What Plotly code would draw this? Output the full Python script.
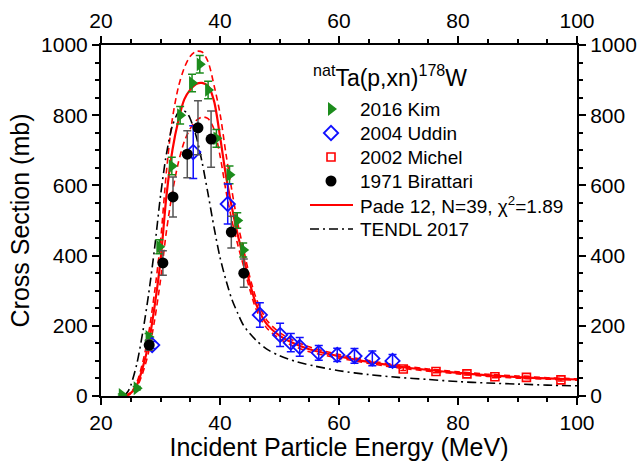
import plotly.graph_objects as go

# ---- measured cross sections (MeV, mb) ----
kim_e = [23.5, 26.0, 28.0, 29.8, 31.9, 33.3, 35.3, 36.6, 38.0, 39.4, 41.6, 42.9, 43.9]
kim_xs = [3, 22, 168, 425, 655, 800, 892, 945, 872, 734, 630, 500, 416]
kim_err = [3, 5, 10, 20, 25, 25, 25, 25, 25, 25, 25, 22, 20]

uddin_e = [28.6, 35.5, 41.3, 46.7, 50.1, 51.9, 53.4, 56.6, 59.7, 62.6, 65.6, 69.0]
uddin_xs = [145, 695, 547, 231, 174, 152, 140, 123, 117, 114, 107, 100]
uddin_err = [10, 75, 57, 35, 33, 26, 27, 21, 19, 21, 21, 18]

michel_e = [70.8, 76.3, 81.5, 86.2, 91.5, 97.3]
michel_xs = [77, 70, 63, 55, 53, 46]
michel_err = [4, 4, 3, 3, 3, 3]

birattari_e = [28.1, 30.4, 32.1, 34.5, 36.3, 38.5, 41.9, 44.0]
birattari_xs = [145, 379, 567, 689, 764, 732, 467, 350]
birattari_err = [15, 35, 57, 67, 77, 80, 45, 40]

# ---- Pade fit with its uncertainty band ----
fit_e = [24, 25, 26, 27, 28, 29, 30, 31, 32, 33, 34, 35, 36, 37, 38, 39, 40,
         41, 42, 43, 44, 45, 46, 47, 48, 50, 52, 55, 60, 65, 70, 75, 80, 85,
         90, 95, 100]
fit_xs = [0, 8, 30, 80, 150, 255, 385, 570, 700, 785, 845, 873, 889, 892, 883,
          840, 740, 628, 537, 458, 390, 322, 265, 228, 202, 172, 153, 133, 113,
          97, 84, 74, 66, 59, 54, 50, 47]
fit_hi = [0, 10, 38, 95, 178, 295, 440, 640, 790, 880, 935, 968, 982, 980, 952,
          885, 805, 690, 585, 490, 415, 340, 282, 242, 213, 181, 161, 140, 118,
          101, 88, 77, 69, 62, 57, 52, 49]
fit_lo = [0, 6, 24, 65, 125, 215, 330, 470, 580, 665, 725, 762, 785, 795, 790,
          760, 685, 585, 500, 430, 368, 304, 250, 215, 191, 163, 145, 126, 108,
          93, 80, 71, 63, 56, 51, 48, 45]

# ---- TENDL-2017 evaluation ----
tendl_e = [23.8, 24.5, 25, 26, 27, 28, 29, 30, 31, 32, 33, 33.7, 34.5, 35, 36,
           37, 38, 39, 40, 41, 42, 43, 44, 46, 48, 50, 53, 56, 60, 65, 70, 75,
           80, 85, 90, 95, 100]
tendl_xs = [0, 12, 30, 90, 180, 290, 420, 570, 690, 770, 808, 815, 805, 790,
            740, 665, 575, 480, 395, 330, 275, 235, 200, 160, 132, 115, 97, 85,
            72, 61, 53, 47, 41, 37, 34, 31, 29]

# legend text
reaction_label = "<sup>nat</sup>Ta(p,xn)<sup>178</sup>W"
series_labels = ["2016 Kim", "2004 Uddin", "2002 Michel", "1971 Birattari",
                 "Pade 12, N=39, \u03c7<sup>2</sup>=1.89", "TENDL 2017"]

GREEN = "#1c8c1c"
BLUE = "#1010ff"
RED = "#ff0000"
GRAY = "#555555"
FONT = "Arial, Liberation Sans, sans-serif"
TENDL_DASH = "9px,4px,2px,4px"

MARKERS = [
    dict(symbol="triangle-right", size=12, color=GREEN),
    dict(symbol="diamond-open", size=11, color=BLUE, line=dict(width=1.8)),
    dict(symbol="square-open", size=8, color=RED, line=dict(width=1.6)),
    dict(symbol="circle", size=11, color="black"),
]
ERR_COLORS = [GREEN, BLUE, RED, GRAY]

fig = go.Figure()

# fit band
for band in (fit_hi, fit_lo):
    fig.add_trace(go.Scatter(
        x=fit_e, y=band, mode="lines", showlegend=False, hoverinfo="skip",
        line=dict(color=RED, width=1.6, dash="6px,4px", shape="spline", smoothing=0.8)))

fig.add_trace(go.Scatter(
    x=tendl_e, y=tendl_xs, mode="lines", showlegend=False, hoverinfo="skip",
    line=dict(color="black", width=1.6, dash=TENDL_DASH, shape="spline", smoothing=0.8)))

fig.add_trace(go.Scatter(
    x=fit_e, y=fit_xs, mode="lines", showlegend=False, hoverinfo="skip",
    line=dict(color=RED, width=2.2, shape="spline", smoothing=0.8)))

# data sets
datasets = [(kim_e, kim_xs, kim_err), (uddin_e, uddin_xs, uddin_err),
            (michel_e, michel_xs, michel_err), (birattari_e, birattari_xs, birattari_err)]
for i, (e, xs, err) in enumerate(datasets):
    fig.add_trace(go.Scatter(
        x=e, y=xs, mode="markers", name=series_labels[i], showlegend=False,
        error_y=dict(type="data", array=err, color=ERR_COLORS[i], thickness=1.5,
                     width=3 if i == 2 else 4),
        marker=MARKERS[i]))

# mirror axes on top / right
fig.add_trace(go.Scatter(x=[None], y=[None], xaxis="x2", yaxis="y2",
                         showlegend=False, hoverinfo="skip"))

# ---- key box, laid out in pixel units on a hidden overlay axis ----
KEY_X = 331          # symbol centre
KEY_TEXT_X = 358     # label left edge
KEY_ROW0 = 109       # first row centre
KEY_STEP = 24        # row pitch
rows = [KEY_ROW0 + KEY_STEP * i for i in range(len(series_labels))]

for i in range(4):
    fig.add_trace(go.Scatter(x=[KEY_X], y=[rows[i]], xaxis="x3", yaxis="y3",
                             mode="markers", marker=MARKERS[i],
                             showlegend=False, hoverinfo="skip"))
fig.add_shape(type="line", xref="x3", yref="y3", x0=310, x1=353, y0=rows[4], y1=rows[4],
              line=dict(color=RED, width=2.2))
fig.add_shape(type="line", xref="x3", yref="y3", x0=310, x1=353, y0=rows[5], y1=rows[5],
              line=dict(color="black", width=1.6, dash=TENDL_DASH))

fig.add_annotation(xref="x3", yref="y3", x=311, y=76, text=reaction_label,
                   showarrow=False, xanchor="left", yanchor="middle",
                   font=dict(family=FONT, size=23, color="black"))
for lbl, yy in zip(series_labels, rows):
    fig.add_annotation(xref="x3", yref="y3", x=KEY_TEXT_X, y=yy, text=lbl,
                       showarrow=False, xanchor="left", yanchor="middle",
                       font=dict(family=FONT, size=19, color="black"))

tickfont = dict(family=FONT, size=21, color="black")
common = dict(showgrid=False, zeroline=False, showline=True, linecolor="black",
              linewidth=2, ticks="outside", ticklen=7, tickwidth=2,
              tickcolor="black", tickfont=tickfont, automargin=False)
minor_ticks = dict(ticks="outside", ticklen=4, tickwidth=1.5, tickcolor="black")

fig.update_layout(
    width=639, height=461,
    margin=dict(l=101, r=62, t=45, b=65, autoexpand=False),
    paper_bgcolor="white", plot_bgcolor="white",
    font=dict(family=FONT, color="black"),
    showlegend=False,
    xaxis=dict(range=[20, 100], dtick=20, tick0=20, minor=dict(dtick=5, **minor_ticks),
               title=dict(text="Incident Particle Energy (MeV)", font=dict(family=FONT, size=25), standoff=4),
               **common),
    yaxis=dict(range=[0, 1000], dtick=200, minor=dict(dtick=50, **minor_ticks),
               title=dict(text="Cross Section (mb)", font=dict(family=FONT, size=25), standoff=4),
               **common),
    xaxis2=dict(range=[20, 100], dtick=20, tick0=20, overlaying="x", side="top",
                minor=dict(dtick=5, **minor_ticks), **common),
    yaxis2=dict(range=[0, 1000], dtick=200, overlaying="y", side="right",
                minor=dict(dtick=50, **minor_ticks), **common),
    xaxis3=dict(range=[101, 577], overlaying="x", visible=False, fixedrange=True),
    yaxis3=dict(range=[396, 45], overlaying="y", visible=False, fixedrange=True),
)

fig.write_html("out.html")
